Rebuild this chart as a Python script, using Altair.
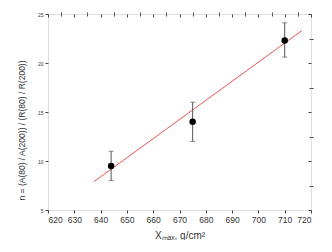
import altair as alt
import pandas as pd

# data
xmax = [644, 675, 710]
n_val = [9.5, 14.0, 22.3]
n_lo = [8.0, 12.0, 20.6]
n_hi = [11.0, 16.0, 24.1]
fit_x = [637.5, 716.5]
fit_y = [7.9, 23.3]
x_major = [620, 630, 640, 650, 660, 670, 680, 690, 700, 710, 720]
x_minor = [625, 635, 645, 655, 665, 675, 685, 695, 705, 715]
y_major = [5, 10, 15, 20, 25]
y_minor = [7.5, 12.5, 17.5, 22.5]

pts = pd.DataFrame({"x": xmax, "y": n_val, "lo": n_lo, "hi": n_hi})
fit = pd.DataFrame({"x": fit_x, "y": fit_y})

xs = alt.Scale(domain=[620, 720], nice=False, zero=False)
ys = alt.Scale(domain=[5, 25], nice=False, zero=False)
FONT = "Liberation Sans"
AX = "#444444"


def xax(**kw):
    base = dict(title=None, domain=False, tickColor=AX, labelColor="#333", labelFont=FONT,
                grid=False)
    base.update(kw)
    return alt.Axis(**base)


fit_layer = alt.Chart(fit).mark_line(color="#e84040", strokeWidth=0.9).encode(
    x=alt.X("x:Q", scale=xs, axis=None), y=alt.Y("y:Q", scale=ys, axis=None))

err = alt.Chart(pts).mark_rule(color="#555555", strokeWidth=1).encode(
    x=alt.X("x:Q", scale=xs, axis=None), y=alt.Y("lo:Q", scale=ys, axis=None), y2="hi:Q")
cap_lo = alt.Chart(pts).mark_tick(color="#555555", orient="horizontal", size=5, thickness=1).encode(
    x=alt.X("x:Q", scale=xs, axis=None), y=alt.Y("lo:Q", scale=ys, axis=None))
cap_hi = alt.Chart(pts).mark_tick(color="#555555", orient="horizontal", size=5, thickness=1).encode(
    x=alt.X("x:Q", scale=xs, axis=None), y=alt.Y("hi:Q", scale=ys, axis=None))

points = alt.Chart(pts).mark_circle(color="black", size=42, opacity=1).encode(
    x=alt.X("x:Q", scale=xs, axis=xax(
        values=x_major, tickSize=3, labelFontSize=8.5, labelPadding=2,
        title="Xₘₐₓ,  g/cm²", titleFont=FONT, titleFontSize=10, titleFontWeight="normal",
        titleColor="#333", titlePadding=7)),
    y=alt.Y("y:Q", scale=ys, axis=xax(
        values=y_major, tickSize=3, labelFontSize=5, labelPadding=2,
        title="n = (A(80) / A(200)) / (R(80) / R(200))", titleFont=FONT, titleFontSize=8.5,
        titleFontWeight="normal", titleColor="#333", titleX=-22, titleY=116,
        titleAngle=270, titleBaseline="bottom")))


def ghost(xaxis, yaxis):
    return alt.Chart(pts).mark_point(opacity=0).encode(
        x=alt.X("x:Q", scale=xs, axis=xaxis), y=alt.Y("y:Q", scale=ys, axis=yaxis))


bottom_minor = ghost(xax(values=x_minor, tickSize=2, labels=False), None)
left_minor = ghost(None, xax(values=y_minor, tickSize=2, labels=False))
top_major = ghost(xax(orient="top", values=x_major, tickSize=3, labels=False, offset=-3), None)
top_minor = ghost(xax(orient="top", values=x_minor, tickSize=2, labels=False, offset=-2), None)
right_major = ghost(None, xax(orient="right", values=y_major, tickSize=3, labels=False, offset=-3))
right_minor = ghost(None, xax(orient="right", values=y_minor, tickSize=2, labels=False, offset=-2))

chart = alt.layer(
    fit_layer, err, cap_lo, cap_hi, points,
    bottom_minor, left_minor, top_major, top_minor, right_major, right_minor
).resolve_axis(x="independent", y="independent").properties(
    width=263, height=196,
    autosize=alt.AutoSizeParams(type="none"),
    padding={"left": 40, "top": 6, "right": 10, "bottom": 30},
).configure_view(stroke=AX, strokeWidth=1).configure(background="white")

chart.save("out.html", embed_options={"renderer": "svg", "actions": False})
